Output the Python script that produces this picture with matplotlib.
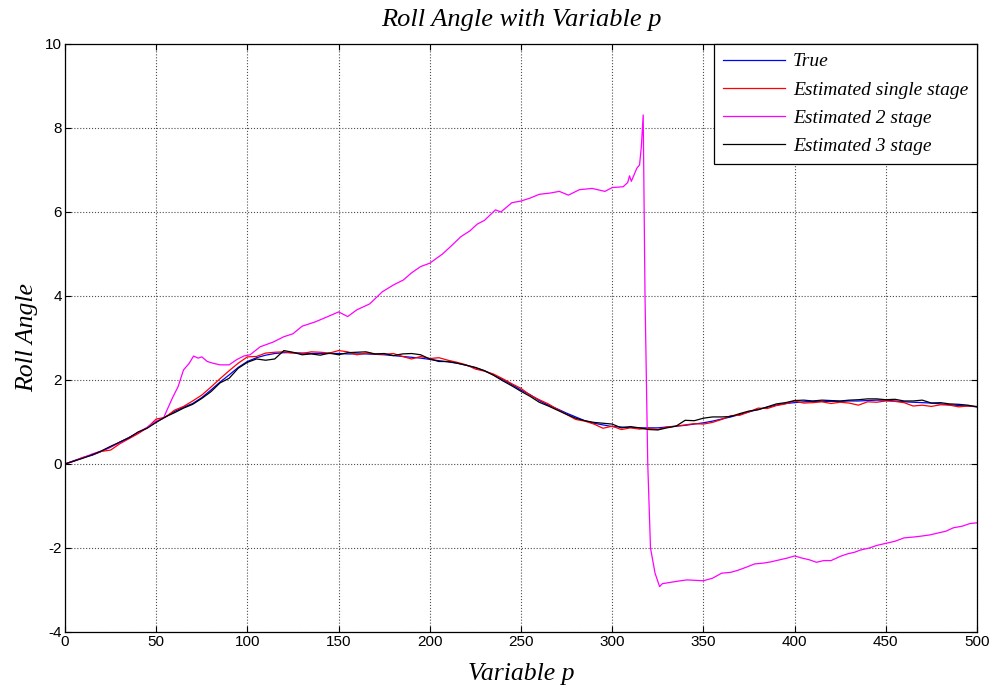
import numpy as np
import matplotlib
matplotlib.use("Agg")
import matplotlib.pyplot as plt

# sample positions shared by the three close curves
p = np.arange(0, 501, 5)

true_angle = [
    0.00, 0.08, 0.15, 0.21, 0.30, 0.40, 0.52, 0.63, 0.74, 0.86,
    1.00, 1.12, 1.25, 1.35, 1.44, 1.58, 1.76, 1.95, 2.12, 2.30,
    2.44, 2.53, 2.59, 2.63, 2.65, 2.65, 2.64, 2.63, 2.63, 2.63,
    2.63, 2.62, 2.62, 2.62, 2.61, 2.60, 2.58, 2.56, 2.54, 2.52,
    2.49, 2.46, 2.43, 2.40, 2.35, 2.29, 2.22, 2.12, 2.01, 1.89,
    1.76, 1.65, 1.51, 1.40, 1.31, 1.21, 1.12, 1.03, 0.97, 0.93,
    0.89, 0.88, 0.87, 0.86, 0.86, 0.86, 0.88, 0.90, 0.92, 0.95,
    0.98, 1.02, 1.07, 1.12, 1.18, 1.24, 1.30, 1.35, 1.40, 1.44,
    1.46, 1.48, 1.49, 1.49, 1.49, 1.49, 1.50, 1.50, 1.51, 1.52,
    1.52, 1.50, 1.48, 1.47, 1.46, 1.45, 1.43, 1.41, 1.39, 1.38,
    1.36]

est_single = [
    0.00, 0.07, 0.16, 0.22, 0.30, 0.33, 0.48, 0.60, 0.72, 0.86,
    1.07, 1.11, 1.28, 1.37, 1.50, 1.64, 1.83, 2.03, 2.22, 2.40,
    2.55, 2.56, 2.64, 2.66, 2.67, 2.64, 2.63, 2.67, 2.66, 2.64,
    2.70, 2.67, 2.60, 2.64, 2.62, 2.61, 2.63, 2.56, 2.50, 2.56,
    2.51, 2.53, 2.47, 2.42, 2.36, 2.26, 2.21, 2.14, 2.03, 1.91,
    1.80, 1.64, 1.53, 1.43, 1.30, 1.18, 1.06, 1.02, 0.95, 0.85,
    0.90, 0.82, 0.86, 0.83, 0.85, 0.82, 0.88, 0.90, 0.93, 0.96,
    0.95, 0.99, 1.06, 1.15, 1.16, 1.24, 1.33, 1.32, 1.39, 1.43,
    1.50, 1.45, 1.46, 1.48, 1.44, 1.47, 1.45, 1.40, 1.48, 1.47,
    1.50, 1.49, 1.46, 1.38, 1.40, 1.37, 1.41, 1.40, 1.36, 1.38,
    1.37]

est_3stage = [
    0.00, 0.07, 0.14, 0.22, 0.31, 0.42, 0.52, 0.62, 0.76, 0.85,
    0.99, 1.12, 1.22, 1.33, 1.42, 1.56, 1.72, 1.93, 2.04, 2.28,
    2.42, 2.50, 2.47, 2.50, 2.70, 2.66, 2.60, 2.62, 2.59, 2.64,
    2.60, 2.65, 2.66, 2.67, 2.62, 2.63, 2.58, 2.62, 2.63, 2.60,
    2.50, 2.44, 2.44, 2.40, 2.35, 2.30, 2.22, 2.11, 1.98, 1.86,
    1.73, 1.61, 1.47, 1.38, 1.28, 1.18, 1.09, 1.03, 0.99, 0.97,
    0.95, 0.86, 0.89, 0.86, 0.82, 0.81, 0.86, 0.90, 1.04, 1.03,
    1.09, 1.12, 1.12, 1.13, 1.20, 1.26, 1.29, 1.36, 1.43, 1.46,
    1.51, 1.52, 1.50, 1.52, 1.51, 1.50, 1.52, 1.53, 1.55, 1.55,
    1.53, 1.54, 1.50, 1.50, 1.52, 1.45, 1.46, 1.43, 1.42, 1.40,
    1.36]

# the 2 stage estimate has its own (uneven) sample positions
p_2stage = [
    0, 5, 10, 15, 20, 25, 30, 35, 40, 45,
    50, 54, 56, 59, 62, 65, 68, 70.5, 73, 75,
    78, 81, 85, 90, 94, 98, 101.5, 107, 114, 120,
    125, 130, 137, 142, 150, 155, 160, 167, 174, 180,
    185.5, 190, 195, 200, 207, 212, 217, 222, 226, 230,
    236, 239, 245, 250, 255, 260, 266, 271, 276, 282,
    289, 296, 300, 306, 308.5, 309.5, 310.5, 313.5, 315, 316,
    317, 318, 319.5, 321, 323.5, 326, 327.5, 336, 341, 350,
    355, 360, 365, 369, 374, 378, 383, 387, 392, 396,
    400, 404, 408, 412, 416, 420, 425, 429, 433, 436,
    441, 445, 450, 455, 460, 465, 469, 474, 478, 483,
    487, 492, 496, 500]

est_2stage = [
    0.00, 0.07, 0.15, 0.24, 0.31, 0.41, 0.50, 0.62, 0.75, 0.87,
    1.02, 1.09, 1.29, 1.58, 1.84, 2.24, 2.39, 2.57, 2.52, 2.55,
    2.44, 2.40, 2.36, 2.36, 2.48, 2.57, 2.60, 2.79, 2.90, 3.03,
    3.10, 3.28, 3.38, 3.47, 3.62, 3.51, 3.67, 3.81, 4.10, 4.26,
    4.38, 4.55, 4.70, 4.78, 5.00, 5.20, 5.41, 5.55, 5.71, 5.80,
    6.05, 6.00, 6.22, 6.26, 6.33, 6.42, 6.45, 6.49, 6.40, 6.53,
    6.56, 6.49, 6.58, 6.60, 6.70, 6.86, 6.73, 7.04, 7.12, 7.56,
    8.31, 4.00, 0.00, -2.00, -2.60, -2.92, -2.85, -2.79, -2.76, -2.78,
    -2.72, -2.60, -2.58, -2.53, -2.45, -2.38, -2.36, -2.33, -2.28, -2.24,
    -2.19, -2.24, -2.28, -2.34, -2.30, -2.30, -2.20, -2.14, -2.10, -2.05,
    -2.00, -1.94, -1.89, -1.84, -1.76, -1.74, -1.72, -1.69, -1.65, -1.60,
    -1.52, -1.48, -1.42, -1.40]

serif = ['Liberation Serif', 'DejaVu Serif']
plt.rcParams['font.family'] = ['Liberation Sans', 'DejaVu Sans']
plt.rcParams['axes.unicode_minus'] = False

fig = plt.figure(figsize=(9.95, 6.91), dpi=100)
ax = fig.add_axes([0.0653, 0.0854, 0.9166, 0.851])

ax.plot(p, true_angle, color='#0000ff', lw=0.9, label='True')
ax.plot(p, est_single, color='#ff0000', lw=0.9, label='Estimated single stage')
ax.plot(p_2stage, est_2stage, color='#ff00ff', lw=0.9, label='Estimated 2 stage')
ax.plot(p, est_3stage, color='black', lw=0.9, label='Estimated 3 stage')

ax.set_xlim(0, 500)
ax.set_ylim(-4, 10)
ax.set_xticks(np.arange(0, 501, 50))
ax.set_yticks(np.arange(-4, 11, 2))
ax.grid(True, color='0.3', linestyle=':', linewidth=0.8)
ax.tick_params(direction='in', top=True, right=True, length=4, labelsize=11, pad=2)
for s in ax.spines.values():
    s.set_linewidth(0.9)

ax.set_title('Roll Angle with Variable p', family=serif, style='italic', fontsize=19, pad=13)
ax.set_xlabel('Variable p', family=serif, style='italic', fontsize=18.5, labelpad=10)
ax.set_ylabel('Roll Angle', family=serif, style='italic', fontsize=18.5, labelpad=5)

leg = ax.legend(loc='upper right', borderaxespad=0, fancybox=False, edgecolor='black',
                framealpha=1, handlelength=3.2, handletextpad=0.4, labelspacing=0.55,
                borderpad=0.45,
                prop={'family': serif, 'style': 'italic', 'size': 14})
leg.get_frame().set_linewidth(0.9)

fig.savefig('out.png', dpi=100)
